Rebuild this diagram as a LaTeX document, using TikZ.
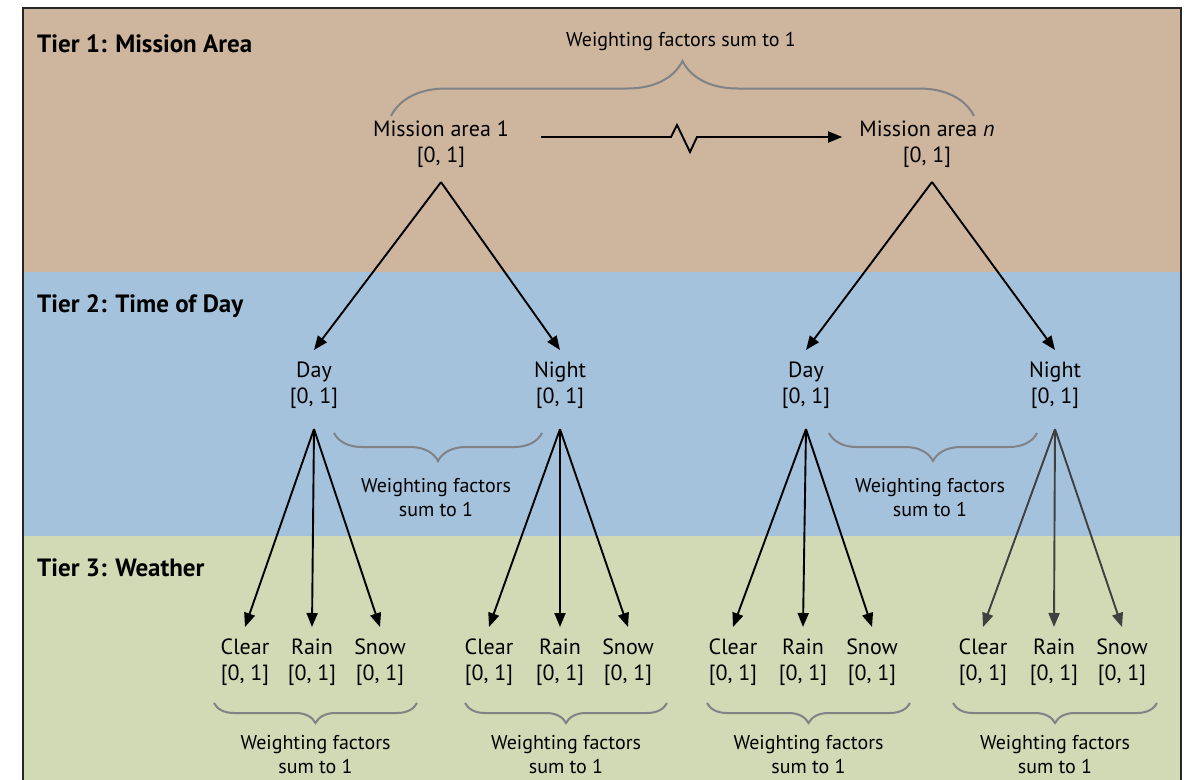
\documentclass[tikz,border=0pt]{standalone}
\usepackage{fontspec}
\setmainfont{PT Sans}
\usetikzlibrary{arrows.meta,positioning,calc,decorations.pathreplacing}

\definecolor{tiertan}{HTML}{CDB59E}
\definecolor{tierblue}{HTML}{A5C2DC}
\definecolor{tiergreen}{HTML}{D2D9B5}
\definecolor{bracegray}{HTML}{808285}
\definecolor{darkarrow}{HTML}{404040}

\begin{document}
\begin{tikzpicture}[x=1pt,y=-1pt,
  lbl/.style={font=\fontsize{22}{26}\selectfont,align=center,inner sep=0pt,anchor=north},
  wnote/.style={font=\fontsize{20}{24.5}\selectfont,align=center,inner sep=0pt,anchor=north},
  tier/.style={font=\fontsize{25}{29}\selectfont\bfseries,inner sep=0pt,anchor=base west},
  arr/.style={draw=#1,line width=1.9pt,-{Triangle[length=14pt,width=11pt]}},
  arr/.default=black,
  wbrace/.style={draw=bracegray,line width=2pt,decorate,decoration={brace,amplitude=#1}}]
\useasboundingbox (0,0) rectangle (1188,779);
\clip (0,0) rectangle (1188,779);
%% Tier bands
\fill[tiertan] (23,8) rectangle (1181,272);
\fill[tierblue] (23,272) rectangle (1181,536);
\fill[tiergreen] (23,536) rectangle (1181,800);
\draw[black!85,line width=1.5pt] (23,800) -- (23,8) -- (1181,8) -- (1181,800);
\node[tier] (t1) at (37,52) {Tier 1: Mission Area};
\node[tier] (t2) at (37,312) {Tier 2: Time of Day};
\node[tier] (t3) at (37,576) {Tier 3: Weather};
%% Tier 1: mission areas
\node[lbl] (m1) at (441,121) {Mission area 1\\{[0, 1]}};
\node[lbl] (mn) at (927,121) {Mission area \textit{n}\\{[0, 1]}};
\draw[arr] ($(m1.east |- 0,137)+(32,0)$) -- (671,137) -- (677,125) -- (690,152)
  -- (697,137) -- ($(mn.west |- 0,137)+(-17,0)$);
\draw[wbrace=55pt] (391,116) -- (974,116);
\node[wnote] (wtop) at (681,32) {Weighting factors sum to 1};
%% Tier 2: time of day
\node[lbl] (d1) at (314,362) {Day\\{[0, 1]}};
\node[lbl] (n1) at (560,362) {Night\\{[0, 1]}};
\node[lbl] (d2) at (806,362) {Day\\{[0, 1]}};
\node[lbl] (n2) at (1055,362) {Night\\{[0, 1]}};
\coordinate (m1t) at ([yshift=-14pt]m1.south);
\coordinate (mnt) at ([xshift=5pt,yshift=-14pt]mn.south);
\draw[arr] (m1t) -- ([yshift=12pt]d1.north);
\draw[arr] (m1t) -- ([yshift=12pt]n1.north);
\draw[arr] (mnt) -- ([yshift=12pt]d2.north);
\draw[arr] (mnt) -- ([yshift=12pt]n2.north);
\draw[wbrace=28pt] (542,433) -- (334,433);
\draw[wbrace=28pt] (1037,433) -- (829,433);
\node[wnote] (w1) at (436,478) {Weighting factors\\sum to 1};
\node[wnote] (w2) at (930,478) {Weighting factors\\sum to 1};
%% Tier 3: weather
\foreach \g/\up/\cx/\rx/\sx/\bl/\br/\col in {1/d1/245/312/380/214/417/black,
    2/n1/489/560/628/465/667/black, 3/d2/733/803/872/707/910/black,
    4/n2/983/1054/1122/953/1157/darkarrow} {
  \node[lbl] (c\g) at (\cx,639) {Clear\\{[0, 1]}};
  \node[lbl] (r\g) at (\rx,639) {Rain\\{[0, 1]}};
  \node[lbl] (s\g) at (\sx,639) {Snow\\{[0, 1]}};
  \coordinate (\up t) at ([yshift=-20pt]\up.south);
  \foreach \leaf in {c,r,s}
    \draw[arr=\col] (\up t) -- ([yshift=12pt]\leaf\g.north);
  \draw[wbrace=20pt] (\br,703) -- (\bl,703);
  \node[wnote] (wb\g) at ({(\bl+\br)/2},735) {Weighting factors\\sum to 1};
}
\end{tikzpicture}
\end{document}
